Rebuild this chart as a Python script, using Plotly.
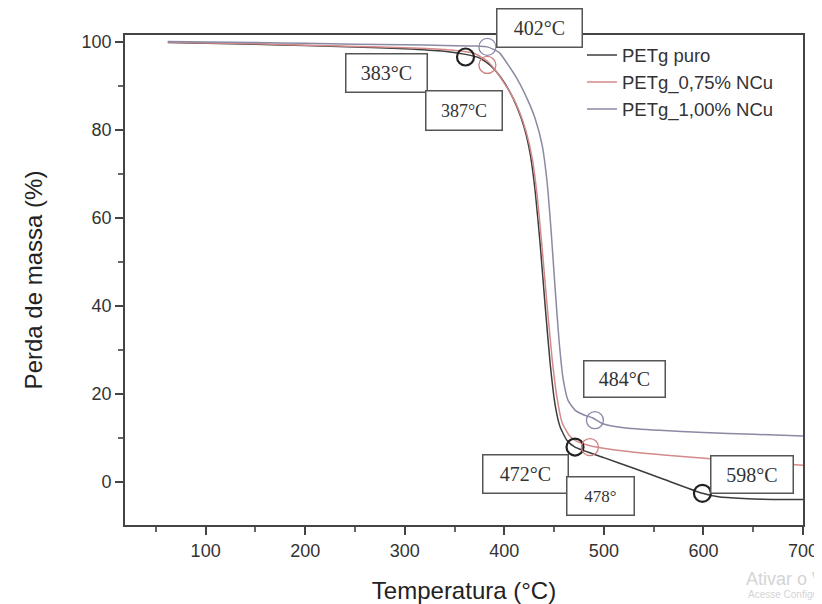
import plotly.graph_objects as go

# ---- data ----
series_names = ["PETg puro", "PETg_0,75% NCu", "PETg_1,00% NCu"]

temp_puro = [62, 100, 150, 200, 250, 300, 340, 361, 375, 386, 396, 405, 413, 420, 426, 431,
             436, 441, 446, 451, 456, 463, 471, 500, 530, 560, 599, 615, 640, 670, 700]
mass_puro = [99.8, 99.6, 99.4, 99.1, 98.8, 98.4, 97.8, 97.1, 96.3, 94.6, 92.0, 88.8, 85.0,
             80.5, 74.5, 66.0, 54.0, 40.0, 27.0, 17.5, 12.5, 9.4, 7.9, 5.5, 3.1, 0.6, -2.6,
             -3.4, -3.8, -4.0, -4.0]

temp_075 = [62, 100, 150, 200, 250, 300, 340, 370, 383, 390, 398, 407, 415, 422, 428, 433,
            438, 443, 448, 453, 458, 465, 472, 478, 488, 520, 560, 604, 650, 700]
mass_075 = [99.9, 99.7, 99.5, 99.2, 98.9, 98.6, 98.2, 97.3, 95.6, 93.8, 91.2, 88.0, 84.2,
            79.5, 73.5, 65.0, 53.0, 40.0, 28.0, 19.0, 13.5, 10.6, 9.3, 8.7, 8.1, 7.0, 6.1,
            5.3, 4.5, 3.8]

temp_100 = [62, 100, 150, 200, 250, 300, 340, 370, 383, 395, 403, 413, 423, 431, 438, 443,
            447, 451, 455, 459, 464, 471, 480, 489, 499, 520, 556, 600, 650, 700]
mass_100 = [100.0, 99.9, 99.8, 99.6, 99.4, 99.3, 99.1, 99.0, 98.8, 97.5, 95.0, 91.5, 87.0,
            82.5, 76.5, 68.0, 57.0, 44.0, 32.0, 23.5, 18.5, 16.3, 15.2, 14.5, 13.2, 12.3,
            11.7, 11.2, 10.8, 10.4]

# marked points (circles)
mark_puro_x = [361, 471, 599]
mark_puro_y = [96.5, 7.9, -2.6]
mark_075_x = [383, 486]
mark_075_y = [94.7, 7.9]
mark_100_x = [383, 491]
mark_100_y = [98.8, 14.0]

# annotation labels
label_texts = ["402°C", "383°C", "387°C", "484°C", "472°C", "478°", "598°C"]
label_px = [0.612, 0.386, 0.500, 0.737, 0.590, 0.702, 0.925]
label_py = [1.014, 0.922, 0.845, 0.298, 0.104, 0.059, 0.104]
label_w = [82, 78, 73, 78, 82, 64, 79]
label_h = [35, 35, 36, 33, 35, 35, 34]
label_fs = [20, 20, 18, 20, 20, 17, 20]

x_ticks = [100, 200, 300, 400, 500, 600, 700]
y_ticks = [0, 20, 40, 60, 80, 100]

colors = ["#3c3c3c", "#d48a8a", "#8a8aa4"]

fig = go.Figure()
curves = [(temp_puro, mass_puro), (temp_075, mass_075), (temp_100, mass_100)]
for name, (tx, my), c in zip(series_names, curves, colors):
    fig.add_trace(go.Scatter(x=tx, y=my, mode="lines", name=name,
                             line=dict(color=c, width=1.5, shape="spline", smoothing=0.5)))

marks = [(mark_puro_x, mark_puro_y, "#222222", 2.2),
         (mark_075_x, mark_075_y, "#d08080", 1.3),
         (mark_100_x, mark_100_y, "#8a8aa8", 1.3)]
for mx, myy, c, w in marks:
    fig.add_trace(go.Scatter(x=mx, y=myy, mode="markers", showlegend=False,
                             marker=dict(symbol="circle-open", size=17,
                                         line=dict(color=c, width=w), color=c)))

for t, px, py, w, h, fs in zip(label_texts, label_px, label_py, label_w, label_h, label_fs):
    fig.add_annotation(text=t, xref="paper", yref="paper", x=px, y=py,
                       xanchor="center", yanchor="middle",
                       showarrow=False, width=w, height=h, bgcolor="white",
                       bordercolor="#555555", borderwidth=1.5, borderpad=1,
                       font=dict(family="Liberation Serif", size=fs, color="#333333"))

# faint watermark text
fig.add_annotation(text="Ativar o Windows", xref="paper", yref="paper",
                   x=(744 - 125) / 678, y=(525 - 579) / 490, xanchor="left",
                   yanchor="middle", showarrow=False,
                   font=dict(family="Liberation Sans", size=18, color="#d4d4d4"))
fig.add_annotation(text="Acesse Configurações para ativar o Windows.", xref="paper",
                   yref="paper", x=(746 - 125) / 678, y=(525 - 594) / 490,
                   xanchor="left", yanchor="middle", showarrow=False,
                   font=dict(family="Liberation Sans", size=10, color="#d4d4d4"))

fig.update_layout(
    width=814, height=596,
    margin=dict(l=117, r=19, t=27, b=79),
    paper_bgcolor="white", plot_bgcolor="white",
    font=dict(family="Liberation Sans", color="#333333"),
    legend=dict(x=0.674, y=0.997, xanchor="left", yanchor="top",
                bgcolor="rgba(0,0,0,0)", font=dict(size=18.5, color="#333333"),
                tracegroupgap=0),
    showlegend=True,
)
fig.update_xaxes(range=[19, 700], tickvals=x_ticks, ticks="outside", ticklen=8,
                 tickwidth=1.5, tickcolor="#444444", showline=True, linecolor="#444444",
                 linewidth=1.8, mirror=True, showgrid=False, zeroline=False,
                 automargin=False,
                 tickfont=dict(size=18, color="#333333"),
                 minor=dict(ticks="outside", ticklen=5, dtick=50, tick0=0,
                            tickcolor="#666666", showgrid=False),
                 title=dict(text="Temperatura (°C)", font=dict(size=24, color="#222222"),
                            standoff=26))
fig.update_yaxes(range=[-9.8, 101.5], tickvals=y_ticks, ticks="outside", ticklen=8,
                 tickwidth=1.5, tickcolor="#444444", showline=True, linecolor="#444444",
                 linewidth=1.8, mirror=True, showgrid=False, zeroline=False,
                 automargin=False,
                 tickfont=dict(size=18, color="#333333"),
                 minor=dict(ticks="outside", ticklen=5, dtick=10, tick0=0,
                            tickcolor="#666666", showgrid=False),
                 title=dict(text="Perda de massa (%)", font=dict(size=24, color="#222222"),
                            standoff=32))

fig.write_html("out.html")
